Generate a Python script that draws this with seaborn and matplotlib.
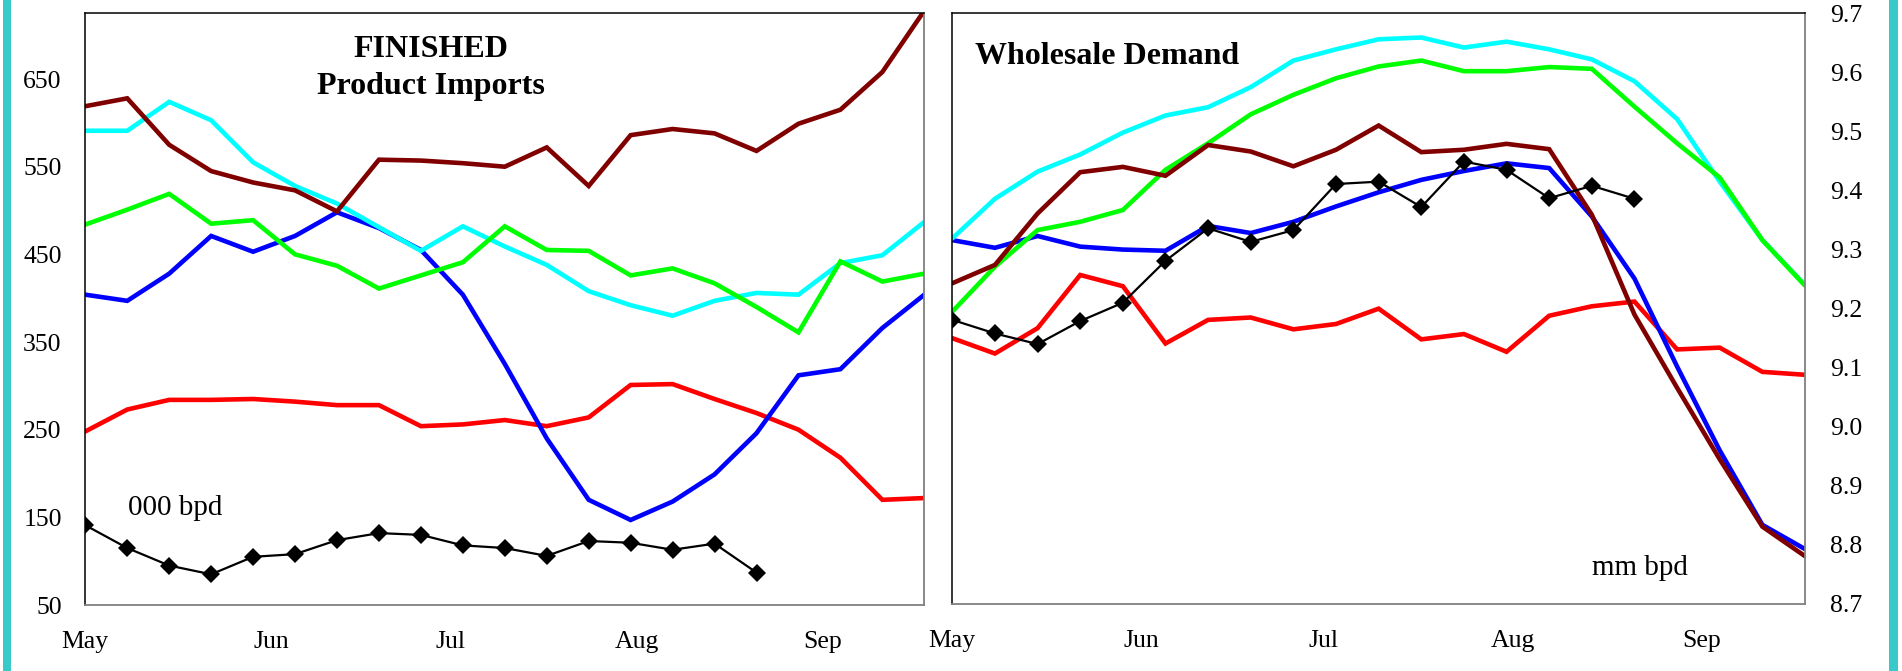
import matplotlib
matplotlib.use("Agg")
import matplotlib.pyplot as plt
from matplotlib.patches import Rectangle
from matplotlib.ticker import FormatStrFormatter
import seaborn as sns
import pandas as pd

# ---------------- data ----------------
week_day = list(range(0, 141, 7))          # days since May 1, weekly
month_labels = ["May", "Jun", "Jul", "Aug", "Sep"]
month_days = [0, 31, 61, 92, 123]

# Left panel: FINISHED Product Imports (000 bpd)
imp_maroon = [619, 628, 575, 545, 532, 523, 499, 558, 557, 554, 550, 572, 528, 586, 593, 588, 568, 599, 615, 658, 728]
imp_cyan = [591, 591, 624, 603, 555, 528, 508, 481, 454, 482, 459, 438, 408, 392, 380, 397, 406, 404, 440, 449, 487]
imp_green = [484, 501, 519, 485, 489, 450, 437, 411, 426, 441, 482, 455, 454, 426, 434, 417, 390, 361, 442, 419, 428]
imp_blue = [404, 397, 428, 471, 453, 471, 498, 480, 455, 404, 325, 240, 170, 147, 168, 199, 246, 312, 319, 366, 404]
imp_red = [248, 273, 284, 284, 285, 282, 278, 278, 254, 256, 261, 254, 264, 301, 302, 285, 269, 250, 218, 170, 172]
imp_black = [141, 115, 95, 85, 105, 108, 124, 132, 130, 118, 115, 106, 123, 121, 113, 120, 87]
imp_ticks = [50, 150, 250, 350, 450, 550, 650]

# Right panel: Wholesale Demand (mm bpd)
dem_cyan = [9.319, 9.386, 9.432, 9.461, 9.498, 9.527, 9.541, 9.575, 9.620, 9.639, 9.656,
            9.659, 9.642, 9.652, 9.639, 9.622, 9.585, 9.521, 9.415, 9.316, 9.240]
dem_green = [9.195, 9.271, 9.333, 9.347, 9.367, 9.435, 9.480, 9.529, 9.562, 9.590, 9.610,
             9.620, 9.602, 9.602, 9.609, 9.606, 9.542, 9.480, 9.422, 9.316, 9.239]
dem_maroon = [9.243, 9.274, 9.361, 9.431, 9.440, 9.425, 9.477, 9.466, 9.441, 9.469, 9.510,
              9.465, 9.469, 9.479, 9.470, 9.359, 9.190, 9.066, 8.945, 8.831, 8.781]
dem_blue = [9.316, 9.303, 9.323, 9.305, 9.300, 9.298, 9.340, 9.328, 9.347, 9.373, 9.397,
            9.418, 9.433, 9.446, 9.438, 9.356, 9.251, 9.102, 8.960, 8.834, 8.793]
dem_red = [9.150, 9.124, 9.167, 9.257, 9.238, 9.141, 9.181, 9.185, 9.165, 9.174, 9.200,
           9.148, 9.157, 9.127, 9.188, 9.204, 9.212, 9.131, 9.134, 9.093, 9.088]
dem_black = [9.181, 9.158, 9.140, 9.179, 9.210, 9.281, 9.336, 9.313, 9.333, 9.411, 9.415,
             9.372, 9.449, 9.435, 9.387, 9.408, 9.386]
dem_ticks = [8.7, 8.8, 8.9, 9.0, 9.1, 9.2, 9.3, 9.4, 9.5, 9.6, 9.7]

# ---------------- style ----------------
sns.set_style("white")
plt.rcParams["font.family"] = ["Liberation Serif", "DejaVu Serif"]
plt.rcParams["lines.solid_joinstyle"] = "miter"
plt.rcParams["text.color"] = "black"
plt.rcParams["xtick.color"] = "black"
plt.rcParams["ytick.color"] = "black"
plt.rcParams["xtick.labelcolor"] = "black"
plt.rcParams["ytick.labelcolor"] = "black"

W, H = 1902, 671
fig = plt.figure(figsize=(W / 100, H / 100), dpi=100)
fig.patch.set_facecolor("white")

def px_rect(x0, y_top, x1, y_bot):
    return [x0 / W, 1 - y_bot / H, (x1 - x0) / W, (y_bot - y_top) / H]

axL = fig.add_axes(px_rect(85.3, 13.3, 924.3, 605))
axR = fig.add_axes(px_rect(952.3, 13.3, 1805, 604))

COL = {"maroon": "#800000", "cyan": "#00FFFF", "green": "#00FF00",
       "blue": "#0000FF", "red": "#FF0000"}
LW = 3.3

def draw(ax, red, blue, cyan, green, maroon, black):
    for vals, key in [(red, "red"), (blue, "blue"), (cyan, "cyan"),
                      (green, "green"), (maroon, "maroon")]:
        df = pd.DataFrame({"day": week_day[:len(vals)], "v": vals})
        sns.lineplot(data=df, x="day", y="v", ax=ax, color=COL[key],
                     linewidth=LW, legend=False, estimator=None)
    df = pd.DataFrame({"day": week_day[:len(black)], "v": black})
    sns.lineplot(data=df, x="day", y="v", ax=ax, color="black", linewidth=1.6,
                 marker="D", markersize=9.5, markeredgewidth=0, legend=False,
                 estimator=None)

draw(axL, imp_red, imp_blue, imp_cyan, imp_green, imp_maroon, imp_black)
draw(axR, dem_red, dem_blue, dem_cyan, dem_green, dem_maroon, dem_black)

for ax in (axL, axR):
    ax.set_xlim(0, 140)
    ax.set_xticks(month_days)
    ax.set_xticklabels(month_labels)
    ax.set_xlabel("")
    ax.set_ylabel("")
    ax.tick_params(axis="both", length=0, labelsize=18.5, colors="black")
    ax.tick_params(axis="x", pad=18.5)
    for s in ("top", "left"):
        ax.spines[s].set_color("black")
        ax.spines[s].set_linewidth(1.1)
    for s in ("right", "bottom"):
        ax.spines[s].set_color("#808080")
        ax.spines[s].set_linewidth(1.3)
    for s in ax.spines.values():
        s.set_visible(True)

axL.set_ylim(50, 725)
axL.set_yticks(imp_ticks)
axL.tick_params(axis="y", pad=17)

axR.set_ylim(8.7, 9.7)
axR.set_yticks(dem_ticks)
axR.yaxis.set_major_formatter(FormatStrFormatter("%.1f"))
axR.yaxis.tick_right()
axR.tick_params(axis="y", pad=18, labelleft=False, labelright=True)

# ---------------- annotations ----------------
def ftext(x, y, s, **kw):
    fig.text(x / W, 1 - y / H, s, color="black", **kw)

ftext(431, 56.7, "FINISHED", ha="center", va="baseline", fontsize=23, fontweight="bold")
ftext(431, 94.3, "Product Imports", ha="center", va="baseline", fontsize=23, fontweight="bold")
ftext(975, 64, "Wholesale Demand", ha="left", va="baseline", fontsize=23, fontweight="bold")
ftext(128, 515, "000 bpd", ha="left", va="baseline", fontsize=21)
ftext(1592, 575, "mm bpd", ha="left", va="baseline", fontsize=21)

# teal frame bars on left and right
teal = "#38C9C9"
fig.patches.append(Rectangle((3 / W, 0), 8 / W, 1, transform=fig.transFigure,
                             facecolor=teal, edgecolor="none"))
fig.patches.append(Rectangle((1889 / W, 0), 9 / W, 1, transform=fig.transFigure,
                             facecolor=teal, edgecolor="none"))

fig.savefig("out.png", dpi=100, facecolor="white")
